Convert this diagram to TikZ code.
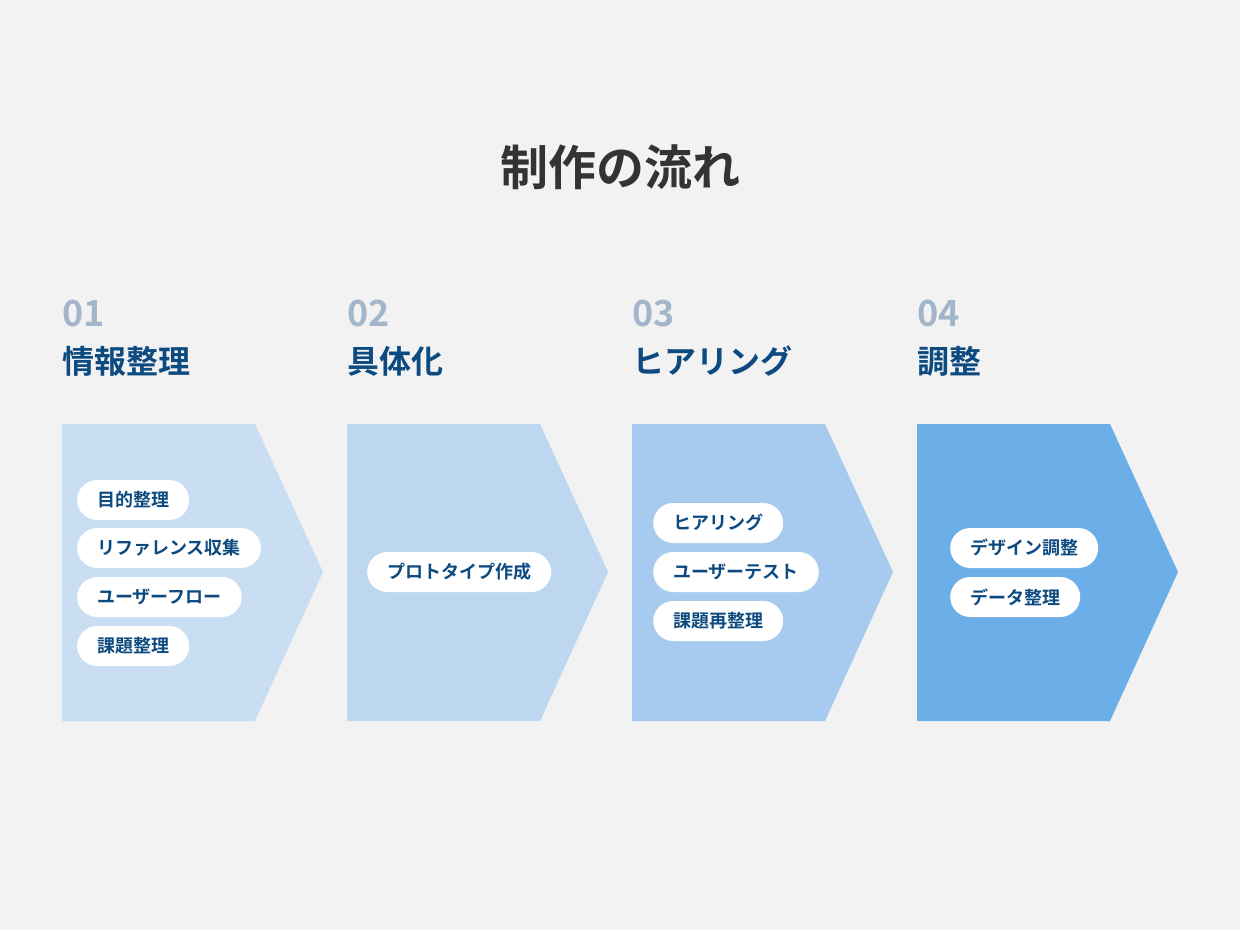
\documentclass[tikz,border=0pt]{standalone}
\usepackage{fontspec}
\newfontfamily\jpbold[BoldFont={Noto Sans CJK JP Bold}]{Noto Sans CJK JP Bold}
\usetikzlibrary{positioning}
\definecolor{bgcol}{HTML}{F2F2F2}
\definecolor{deepblue}{HTML}{0D4A80}
\definecolor{numgray}{HTML}{A3B6C9}
\definecolor{titlegray}{HTML}{333333}
\definecolor{stepa}{HTML}{C9DEF2}
\definecolor{stepb}{HTML}{BDD7F0}
\definecolor{stepc}{HTML}{A6CBEE}
\definecolor{stepd}{HTML}{6CAEE8}
\tikzset{
  pill/.style={fill=white, rounded corners=20pt, minimum height=40pt, inner xsep=20pt,
    anchor=west, text=deepblue, font=\jpbold\fontsize{18}{18}\selectfont},
  stepnum/.style={anchor=base west, inner sep=0pt, text=numgray, font=\jpbold\fontsize{36}{36}\selectfont},
  stephead/.style={anchor=base west, inner sep=0pt, text=deepblue, font=\jpbold\fontsize{32}{32}\selectfont}
}
\begin{document}
\begin{tikzpicture}[x=1pt, y=-1pt]

% Background
\fill[bgcol] (0,0) rectangle (1240,930);
\useasboundingbox (0,0) rectangle (1240,930);

% Title
\node[text=titlegray, font=\jpbold\fontsize{48}{48}\selectfont] (title) at (620,167) {制作の流れ};

% Chevrons, numbers and headings
\foreach \i/\col/\num/\head in {0/stepa/01/情報整理, 1/stepb/02/具体化, 2/stepc/03/ヒアリング, 3/stepd/04/調整} {
    \fill[\col] ({62+285*\i},424) -- ({255+285*\i},424) -- ({323+285*\i},572)
        -- ({255+285*\i},721) -- ({62+285*\i},721) -- cycle;
    \node[stepnum] (num\i) at ({62+285*\i},326) {\num};
    \node[stephead] (head\i) at ({62+285*\i},373) {\head};
}

% Step 1 items
\node[pill] (a1) at (77,500) {目的整理};
\node[pill] (a2) at (77,548) {リファレンス収集};
\node[pill] (a3) at (77,597) {ユーザーフロー};
\node[pill] (a4) at (77,646) {課題整理};

% Step 2 items
\node[pill] (b1) at (367,572) {プロトタイプ作成};

% Step 3 items
\node[pill] (c1) at (653,523) {ヒアリング};
\node[pill] (c2) at (653,572) {ユーザーテスト};
\node[pill] (c3) at (653,621) {課題再整理};

% Step 4 items
\node[pill] (d1) at (950,548) {デザイン調整};
\node[pill] (d2) at (950,597) {データ整理};

\end{tikzpicture}
\end{document}
